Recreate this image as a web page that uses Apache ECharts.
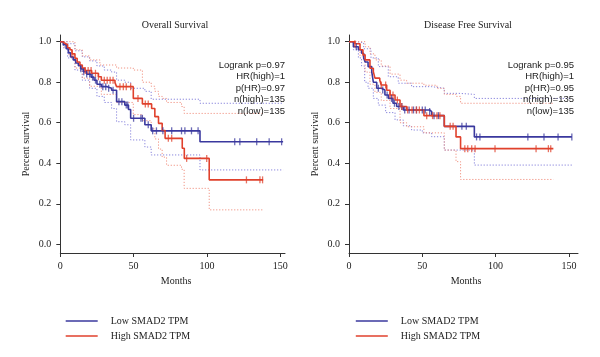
<!DOCTYPE html>
<html>
<head>
<meta charset="utf-8">
<script src="https://cdn.jsdelivr.net/npm/echarts@6/dist/echarts.min.js"></script>
<style>html,body{margin:0;padding:0;background:#fff}#c{width:600px;height:357px}</style>
</head>
<body>
<div id="c"></div>
<script>
// ---------- DATA ----------
const panelTitles = ['Overall Survival', 'Disease Free Survival'];
const seriesNames = ['Low SMAD2 TPM', 'High SMAD2 TPM'];
const xTickLabels = [0, 50, 100, 150];
const yTickLabels = [0.0, 0.2, 0.4, 0.6, 0.8, 1.0];
const osStats = ['Logrank p=0.97', 'HR(high)=1', 'p(HR)=0.97', 'n(high)=135', 'n(low)=135'];
const dfsStats = ['Logrank p=0.95', 'HR(high)=1', 'p(HR)=0.95', 'n(high)=135', 'n(low)=135'];

// Overall survival - Low
const osLowCurve = [[0,1],[2,0.985],[4,0.965],[5.5,0.945],[7,0.925],[8.8,0.91],[10.5,0.895],[12.3,0.882],[14,0.866],[15.7,0.852],[18,0.84],[21,0.825],[23,0.81],[25,0.79],[28,0.778],[32,0.77],[35,0.76],[38.4,0.704],[44,0.687],[46.5,0.665],[48,0.622],[57.7,0.59],[62,0.56],[95.3,0.506],[152,0.506]];
const osLowUpper = [[0,1],[5,0.99],[10,0.955],[15,0.925],[20,0.905],[25,0.88],[30,0.86],[35,0.85],[38.4,0.81],[44,0.8],[48,0.77],[57.7,0.755],[62,0.716],[95.3,0.696],[152,0.696]];
const osLowLower = [[0,1],[2,0.97],[5,0.92],[10,0.86],[15,0.81],[20,0.77],[25,0.73],[30,0.7],[35,0.67],[38.4,0.605],[44,0.59],[48,0.515],[57.7,0.48],[62,0.441],[95.3,0.367],[152,0.367]];
const osLowCensor = [14,16,18,20,22,24,27,29,31,33,36,40,42,45,46,50,55,56,60,63,65.6,70,76,82.7,85,89.5,94,119,122.5,134,142.5,151];
// Overall survival - High
const osHighCurve = [[0,1],[1.5,0.992],[3.2,0.985],[5,0.97],[6.6,0.96],[8,0.94],[10,0.918],[11.5,0.9],[13.4,0.885],[15,0.87],[16.8,0.858],[21.4,0.844],[26,0.827],[28,0.81],[37.3,0.798],[38.4,0.778],[49.8,0.72],[56,0.693],[62.3,0.67],[64.5,0.63],[67,0.597],[69.5,0.562],[71.5,0.523],[83.2,0.474],[84.6,0.424],[101.6,0.318],[138.4,0.318]];
const osHighUpper = [[0,1],[5,1],[10,0.96],[15,0.93],[20,0.91],[27,0.885],[38.4,0.87],[49.8,0.86],[56,0.8],[62,0.78],[64.5,0.755],[67,0.73],[69.5,0.72],[72.5,0.7],[82.7,0.68],[84.5,0.646],[138.4,0.646]];
const osHighLower = [[0,1],[3,0.97],[6,0.93],[10,0.87],[15,0.82],[20,0.78],[28,0.74],[38.4,0.7],[49.8,0.64],[56,0.61],[62,0.57],[64.5,0.52],[67,0.47],[69.5,0.43],[72.5,0.39],[82.7,0.37],[84.5,0.276],[101.6,0.17],[138.4,0.17]];
const osHighCensor = [8,17,19,21,24,26,30,32,34,36,40.7,43,45,48,53,58,60,73.7,76,86.2,99.9,127,136.2,138];

// Disease free survival - Low
const dfsLowCurve = [[0,1],[3,0.975],[6.4,0.96],[8.6,0.943],[10,0.92],[11,0.9],[13,0.877],[15.5,0.852],[16.6,0.8],[18.9,0.77],[22,0.762],[24.5,0.737],[27,0.72],[30,0.696],[32.5,0.68],[37,0.663],[55,0.655],[56.4,0.635],[65,0.582],[85.5,0.53],[152,0.53]];
const dfsLowUpper = [[0,1],[5,0.995],[10,0.965],[15,0.92],[20,0.877],[26.8,0.827],[33.6,0.795],[42.7,0.778],[56.4,0.77],[65,0.745],[75,0.74],[85.5,0.72],[152,0.72]];
const dfsLowLower = [[0,1],[3,0.96],[6.4,0.92],[8.6,0.88],[10.7,0.8],[13,0.77],[16.6,0.72],[20,0.687],[25,0.65],[31.4,0.614],[37,0.585],[42.7,0.564],[50,0.55],[56.4,0.531],[65,0.465],[85.5,0.391],[152,0.391]];
const dfsLowCensor = [5,20,23,26,29,31,34,36,38,41,44,46,50,52,55,58,61,77,80,87,89.3,122,133,142.6,152];
// Disease free survival - High
const dfsHighCurve = [[0,1],[4,0.99],[7.5,0.96],[9.5,0.935],[11,0.91],[14.3,0.869],[16.6,0.852],[17.7,0.82],[21,0.81],[22,0.786],[25.7,0.76],[28,0.737],[31.4,0.712],[34.8,0.68],[39.3,0.663],[51.1,0.635],[65,0.582],[73,0.53],[76.1,0.472],[139.4,0.472]];
const dfsHighUpper = [[0,1],[7.5,1],[11,0.975],[14.3,0.94],[17.7,0.91],[22,0.88],[28,0.84],[34.8,0.81],[39.3,0.795],[51.1,0.785],[60,0.77],[65,0.74],[73,0.73],[76.1,0.696],[139.4,0.696]];
const dfsHighLower = [[0,1],[4,0.97],[7.5,0.93],[11,0.85],[14.3,0.79],[17.7,0.75],[22,0.71],[28,0.67],[34.8,0.6],[39.3,0.58],[51.1,0.55],[65,0.465],[73,0.408],[76.1,0.32],[139.4,0.32]];
const dfsHighCensor = [4,22,25,28,30,33,36,40,43,46,48,53,57,60,62,69,71,79,81,83.7,86,99.6,127.6,136,137.6];

// ---------- CHART ----------
const BLUE = '#3a389e', RED = '#e0412c';
const BLUE_CI = '#7a76d8', RED_CI = '#f08a78';
const SERIF = '"Liberation Serif", "DejaVu Serif", serif';
const SANS = '"Liberation Sans", Arial, sans-serif';

function stepAt(curve, t) {
  let y = curve[0][1];
  for (const p of curve) { if (p[0] <= t) y = p[1]; }
  return y;
}

const panels = [
  { low: [osLowCurve, osLowUpper, osLowLower, osLowCensor], high: [osHighCurve, osHighUpper, osHighLower, osHighCensor], stats: osStats, left: 60.3, width: 224.7, xmax: 153.3, namePad: 7 },
  { low: [dfsLowCurve, dfsLowUpper, dfsLowLower, dfsLowCensor], high: [dfsHighCurve, dfsHighUpper, dfsHighLower, dfsHighCensor], stats: dfsStats, left: 349, width: 229, xmax: 156.2, namePad: 5 }
];

const grid = [], xAxis = [], yAxis = [], series = [], legend = [], graphic = [];

panels.forEach((p, i) => {
  grid.push({ left: p.left, top: 35, width: p.width, height: 218 });
  xAxis.push({
    type: 'value', gridIndex: i, min: 0, max: p.xmax,
    name: 'Months', nameLocation: 'middle', nameGap: 23,
    nameTextStyle: { fontFamily: SERIF, fontSize: 10, color: '#222', padding: [0, 0, 0, p.namePad] },
    axisLine: { onZero: false, lineStyle: { color: '#333', width: 1 } },
    axisTick: { show: true, length: 4, customValues: xTickLabels, lineStyle: { color: '#333' } },
    axisLabel: { customValues: xTickLabels, margin: 8, fontFamily: SERIF, fontSize: 10, color: '#222' },
    splitLine: { show: false }
  });
  yAxis.push({
    type: 'value', gridIndex: i, min: -0.043, max: 1.033,
    name: 'Percent survival', nameLocation: 'middle', nameGap: 29, nameRotate: 90,
    nameTextStyle: { fontFamily: SERIF, fontSize: 10, color: '#222' },
    axisLine: { show: true, onZero: false, lineStyle: { color: '#333', width: 1 } },
    axisTick: { show: true, length: 4, customValues: yTickLabels, lineStyle: { color: '#333' } },
    axisLabel: { customValues: yTickLabels, margin: 9, fontFamily: SERIF, fontSize: 10, color: '#222',
      formatter: v => v.toFixed(1) },
    splitLine: { show: false }
  });

  [['low', 0, BLUE, BLUE_CI], ['high', 1, RED, RED_CI]].forEach(([key, ni, col, ciCol]) => {
    const [curve, up, lo, cens] = p[key];
    const name = seriesNames[ni];
    series.push({
      name, type: 'line', xAxisIndex: i, yAxisIndex: i, data: curve, step: 'end',
      showSymbol: false, symbol: 'none', color: col, z: 5,
      lineStyle: { color: col, width: 1.6 }, animation: false, silent: true
    });
    [up, lo].forEach(ci => series.push({
      name, type: 'line', xAxisIndex: i, yAxisIndex: i, data: ci, step: 'end',
      showSymbol: false, symbol: 'none', color: ciCol, z: 2,
      lineStyle: { color: ciCol, width: 1, type: [1.2, 1.8], opacity: 0.9 }, animation: false, silent: true
    }));
    series.push({
      name, type: 'scatter', xAxisIndex: i, yAxisIndex: i,
      data: cens.map(t => [t, stepAt(curve, t)]),
      symbol: 'rect', symbolSize: [1.3, 7], color: col, z: 6,
      itemStyle: { color: col, opacity: 0.75 }, animation: false, silent: true
    });
  });

  legend.push({
    data: seriesNames, orient: 'vertical', left: i === 0 ? 60.7 : 350.8, top: 310,
    icon: 'rect', itemWidth: 32, itemHeight: 1.6, itemGap: 3,
    textStyle: { fontFamily: SERIF, fontSize: 10, color: '#222', lineHeight: 12, padding: [0, 0, 0, 8] },
    selectedMode: false
  });

  const titleX = i === 0 ? 175 : 468;
  graphic.push({
    type: 'text', x: titleX, y: 25, silent: true,
    style: { text: panelTitles[i], fontFamily: SERIF, fontSize: 10, fill: '#222', align: 'center', verticalAlign: 'middle' }
  });
  graphic.push({
    type: 'text', x: i === 0 ? 285 : 574, y: 59.5, silent: true, z: 10,
    style: { text: p.stats.join('\n'), fontFamily: SANS, fontSize: 9.5, lineHeight: 11.5, fill: '#222', align: 'right', verticalAlign: 'top' }
  });
});

const chart = echarts.init(document.getElementById('c'), null, { renderer: 'canvas' });
chart.setOption({ animation: false, backgroundColor: '#fff', grid, xAxis, yAxis, series, legend, graphic });
</script>
</body>
</html>
